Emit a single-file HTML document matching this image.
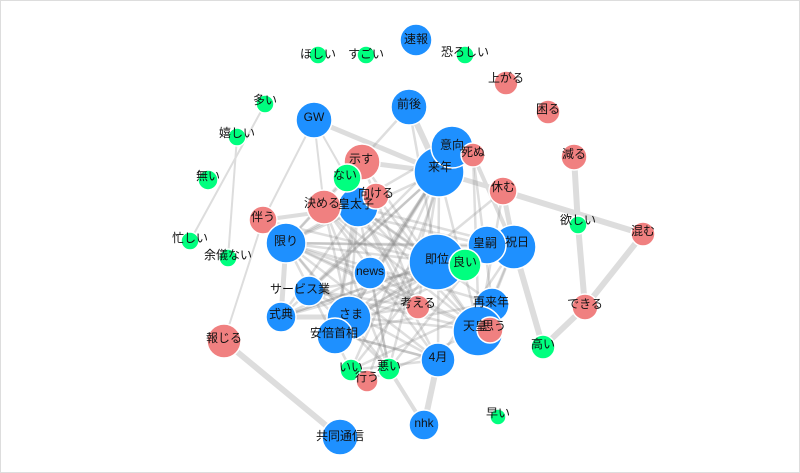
<!DOCTYPE html>
<html><head><meta charset="utf-8"><style>
html,body{margin:0;padding:0;background:#fff;}
svg{display:block;}
text{font-family:"Liberation Sans","Noto Sans CJK JP",sans-serif;font-size:12px;fill:#111;text-anchor:middle;dominant-baseline:middle;}
</style></head><body>
<svg width="800" height="473" viewBox="0 0 800 473">
<rect x="0.5" y="0.5" width="799" height="472" fill="#fff" stroke="#ddd"/>
<g stroke="#ddd" stroke-linecap="round">
<line x1="574" y1="157" x2="578" y2="225" stroke-width="6"/>
<line x1="578" y1="225" x2="585" y2="307" stroke-width="6"/>
<line x1="503" y1="191" x2="643" y2="234" stroke-width="6"/>
<line x1="643" y1="234" x2="585" y2="307" stroke-width="6"/>
<line x1="585" y1="307" x2="543" y2="347" stroke-width="6"/>
<line x1="514" y1="247" x2="543" y2="347" stroke-width="6"/>
<line x1="224" y1="341" x2="340" y2="437" stroke-width="6"/>
<line x1="438" y1="360" x2="424" y2="425" stroke-width="6"/>
<line x1="265" y1="104" x2="190" y2="241" stroke-width="2"/>
<line x1="237" y1="137" x2="228" y2="258" stroke-width="2"/>
<line x1="314" y1="120" x2="263" y2="220" stroke-width="2"/>
<line x1="314" y1="120" x2="324" y2="207" stroke-width="2"/>
<line x1="314" y1="120" x2="347" y2="178" stroke-width="2"/>
<line x1="314" y1="120" x2="439" y2="172" stroke-width="5"/>
<line x1="409" y1="107" x2="439" y2="172" stroke-width="6"/>
<line x1="362" y1="162" x2="439" y2="172" stroke-width="5"/>
<line x1="439" y1="172" x2="503" y2="191" stroke-width="5"/>
<line x1="503" y1="191" x2="514" y2="247" stroke-width="5"/>
<line x1="473" y1="155" x2="514" y2="247" stroke-width="4"/>
<line x1="263" y1="220" x2="286" y2="243" stroke-width="5"/>
<line x1="263" y1="220" x2="358" y2="207" stroke-width="4"/>
<line x1="281" y1="317" x2="349" y2="317" stroke-width="5"/>
<line x1="286" y1="243" x2="281" y2="317" stroke-width="5"/>
<line x1="389" y1="369" x2="424" y2="425" stroke-width="4"/>
<line x1="263" y1="220" x2="224" y2="341" stroke-width="2"/>
</g>
<g stroke="#888" stroke-opacity="0.28" stroke-width="2.5">
<line x1="439" y1="172" x2="349" y2="317"/><line x1="439" y1="172" x2="286" y2="243"/><line x1="439" y1="172" x2="335" y2="333"/><line x1="439" y1="172" x2="438" y2="360"/><line x1="439" y1="172" x2="479" y2="330"/><line x1="439" y1="172" x2="370" y2="273"/><line x1="439" y1="172" x2="309" y2="290"/><line x1="439" y1="172" x2="281" y2="317"/><line x1="439" y1="172" x2="351" y2="370"/><line x1="439" y1="172" x2="389" y2="369"/><line x1="439" y1="172" x2="418" y2="307"/>
<line x1="452" y1="147" x2="349" y2="317"/><line x1="452" y1="147" x2="309" y2="290"/><line x1="452" y1="147" x2="367" y2="381"/><line x1="452" y1="147" x2="286" y2="243"/>
<line x1="437" y1="262" x2="286" y2="243"/><line x1="437" y1="262" x2="281" y2="317"/><line x1="437" y1="262" x2="335" y2="333"/><line x1="437" y1="262" x2="358" y2="207"/><line x1="437" y1="262" x2="324" y2="207"/><line x1="437" y1="262" x2="351" y2="370"/><line x1="437" y1="262" x2="263" y2="220"/>
<line x1="479" y1="330" x2="286" y2="243"/><line x1="479" y1="330" x2="358" y2="207"/><line x1="479" y1="330" x2="349" y2="317"/><line x1="479" y1="330" x2="309" y2="290"/><line x1="479" y1="330" x2="324" y2="207"/><line x1="479" y1="330" x2="362" y2="162"/><line x1="479" y1="330" x2="367" y2="381"/>
<line x1="514" y1="247" x2="286" y2="243"/><line x1="514" y1="247" x2="349" y2="317"/><line x1="514" y1="247" x2="358" y2="207"/><line x1="514" y1="247" x2="335" y2="333"/><line x1="514" y1="247" x2="438" y2="360"/><line x1="514" y1="247" x2="479" y2="330"/><line x1="514" y1="247" x2="492" y2="303"/>
<line x1="487" y1="245" x2="286" y2="243"/><line x1="487" y1="245" x2="349" y2="317"/><line x1="487" y1="245" x2="281" y2="317"/><line x1="487" y1="245" x2="389" y2="369"/><line x1="487" y1="245" x2="324" y2="207"/>
<line x1="492" y1="303" x2="286" y2="243"/><line x1="492" y1="303" x2="358" y2="207"/><line x1="492" y1="303" x2="335" y2="333"/><line x1="492" y1="303" x2="351" y2="370"/>
<line x1="438" y1="360" x2="286" y2="243"/><line x1="438" y1="360" x2="358" y2="207"/><line x1="438" y1="360" x2="324" y2="207"/><line x1="438" y1="360" x2="335" y2="333"/><line x1="438" y1="360" x2="309" y2="290"/>
<line x1="358" y1="207" x2="349" y2="317"/><line x1="358" y1="207" x2="281" y2="317"/><line x1="358" y1="207" x2="389" y2="369"/><line x1="358" y1="207" x2="418" y2="307"/><line x1="358" y1="207" x2="335" y2="333"/>
<line x1="286" y1="243" x2="349" y2="317"/><line x1="286" y1="243" x2="389" y2="369"/><line x1="286" y1="243" x2="351" y2="370"/><line x1="286" y1="243" x2="370" y2="273"/><line x1="286" y1="243" x2="418" y2="307"/>
<line x1="324" y1="207" x2="349" y2="317"/><line x1="324" y1="207" x2="389" y2="369"/><line x1="324" y1="207" x2="418" y2="307"/><line x1="362" y1="162" x2="335" y2="333"/><line x1="362" y1="162" x2="286" y2="243"/><line x1="362" y1="162" x2="418" y2="307"/>
<line x1="370" y1="273" x2="281" y2="317"/><line x1="370" y1="273" x2="389" y2="369"/><line x1="370" y1="273" x2="479" y2="330"/><line x1="309" y1="290" x2="389" y2="369"/><line x1="309" y1="290" x2="418" y2="307"/><line x1="349" y1="317" x2="418" y2="307"/><line x1="335" y1="333" x2="438" y2="360"/><line x1="351" y1="370" x2="438" y2="360"/><line x1="376" y1="196" x2="479" y2="330"/><line x1="376" y1="196" x2="286" y2="243"/><line x1="465" y1="265" x2="309" y2="290"/><line x1="465" y1="265" x2="281" y2="317"/><line x1="503" y1="191" x2="349" y2="317"/><line x1="503" y1="191" x2="479" y2="330"/><line x1="473" y1="155" x2="479" y2="330"/><line x1="473" y1="155" x2="492" y2="303"/><line x1="409" y1="107" x2="437" y2="262"/><line x1="409" y1="107" x2="286" y2="243"/>
</g>
<g stroke="#fff" stroke-width="1.5">
<circle cx="416" cy="40" r="16" fill="#1e90ff"/>
<circle cx="318" cy="55" r="9" fill="#00ff7f"/>
<circle cx="366" cy="55" r="9" fill="#00ff7f"/>
<circle cx="465" cy="55" r="9" fill="#00ff7f"/>
<circle cx="506" cy="83" r="12" fill="#f08080"/>
<circle cx="548" cy="112" r="12" fill="#f08080"/>
<circle cx="265" cy="104" r="9" fill="#00ff7f"/>
<circle cx="314" cy="120" r="18" fill="#1e90ff"/>
<circle cx="409" cy="107" r="18" fill="#1e90ff"/>
<circle cx="237" cy="137" r="9" fill="#00ff7f"/>
<circle cx="574" cy="157" r="13" fill="#f08080"/>
<circle cx="208" cy="180" r="10" fill="#00ff7f"/>
<circle cx="190" cy="241" r="9" fill="#00ff7f"/>
<circle cx="228" cy="258" r="9" fill="#00ff7f"/>
<circle cx="578" cy="225" r="9" fill="#00ff7f"/>
<circle cx="643" cy="234" r="12" fill="#f08080"/>
<circle cx="585" cy="307" r="13" fill="#f08080"/>
<circle cx="543" cy="347" r="12" fill="#00ff7f"/>
<circle cx="224" cy="341" r="17" fill="#f08080"/>
<circle cx="498" cy="417" r="8" fill="#00ff7f"/>
<circle cx="424" cy="425" r="15" fill="#1e90ff"/>
<circle cx="340" cy="437" r="18" fill="#1e90ff"/>
<circle cx="362" cy="162" r="18" fill="#f08080"/>
<circle cx="439" cy="172" r="25" fill="#1e90ff"/>
<circle cx="452" cy="147" r="21" fill="#1e90ff"/>
<circle cx="473" cy="155" r="12" fill="#f08080"/>
<circle cx="503" cy="191" r="14" fill="#f08080"/>
<circle cx="358" cy="207" r="20" fill="#1e90ff"/>
<circle cx="324" cy="207" r="17" fill="#f08080"/>
<circle cx="347" cy="178" r="14" fill="#00ff7f"/>
<circle cx="376" cy="196" r="13" fill="#f08080"/>
<circle cx="263" cy="220" r="14" fill="#f08080"/>
<circle cx="286" cy="243" r="20" fill="#1e90ff"/>
<circle cx="514" cy="247" r="22" fill="#1e90ff"/>
<circle cx="487" cy="245" r="19" fill="#1e90ff"/>
<circle cx="437" cy="262" r="28" fill="#1e90ff"/>
<circle cx="465" cy="265" r="16" fill="#00ff7f"/>
<circle cx="370" cy="273" r="16" fill="#1e90ff"/>
<circle cx="309" cy="291" r="15" fill="#1e90ff"/>
<circle cx="418" cy="307" r="12" fill="#f08080"/>
<circle cx="492" cy="305" r="17" fill="#1e90ff"/>
<circle cx="281" cy="317" r="15" fill="#1e90ff"/>
<circle cx="349" cy="318" r="22" fill="#1e90ff"/>
<circle cx="335" cy="336" r="18" fill="#1e90ff"/>
<circle cx="478" cy="331" r="25" fill="#1e90ff"/>
<circle cx="490" cy="330" r="13" fill="#f08080"/>
<circle cx="438" cy="360" r="17" fill="#1e90ff"/>
<circle cx="351" cy="370" r="11" fill="#00ff7f"/>
<circle cx="367" cy="381" r="11" fill="#f08080"/>
<circle cx="389" cy="369" r="11" fill="#00ff7f"/>
</g>
<g>
<text x="416" y="40">速報</text>
<text x="318" y="55">ほしい</text>
<text x="366" y="55">すごい</text>
<text x="465" y="53">恐ろしい</text>
<text x="506" y="79">上がる</text>
<text x="548" y="110">困る</text>
<text x="265" y="101">多い</text>
<text x="314" y="118">GW</text>
<text x="409" y="105">前後</text>
<text x="237" y="134">嬉しい</text>
<text x="574" y="155">減る</text>
<text x="208" y="177">無い</text>
<text x="190" y="239">忙しい</text>
<text x="228" y="256">余儀ない</text>
<text x="578" y="221">欲しい</text>
<text x="643" y="232">混む</text>
<text x="585" y="305">できる</text>
<text x="543" y="345">高い</text>
<text x="224" y="339">報じる</text>
<text x="498" y="414">早い</text>
<text x="424" y="424">nhk</text>
<text x="340" y="437">共同通信</text>
<text x="361" y="160">示す</text>
<text x="440" y="168">来年</text>
<text x="452" y="146">意向</text>
<text x="473" y="153">死ぬ</text>
<text x="503" y="188">休む</text>
<text x="356" y="205">皇太子</text>
<text x="322" y="204">決める</text>
<text x="345" y="176">ない</text>
<text x="376" y="194">向ける</text>
<text x="263" y="218">伴う</text>
<text x="286" y="242">限り</text>
<text x="517" y="243">祝日</text>
<text x="485" y="244">皇嗣</text>
<text x="437" y="260">即位</text>
<text x="465" y="263">良い</text>
<text x="370" y="272">news</text>
<text x="300" y="290">サービス業</text>
<text x="418" y="304">考える</text>
<text x="491" y="303">再来年</text>
<text x="281" y="315">式典</text>
<text x="351" y="315">さま</text>
<text x="334" y="334">安倍首相</text>
<text x="475" y="327">天皇</text>
<text x="494" y="327">思う</text>
<text x="438" y="358">4月</text>
<text x="351" y="368">いい</text>
<text x="367" y="378">行う</text>
<text x="389" y="367">悪い</text>
</g>
</svg>
</body></html>
